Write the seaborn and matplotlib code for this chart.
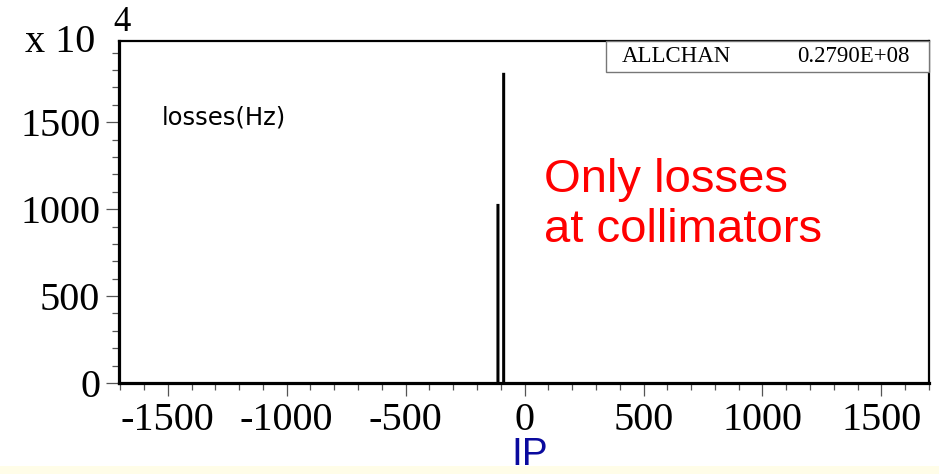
import matplotlib
matplotlib.use("Agg")
import matplotlib.pyplot as plt
import seaborn as sns
import numpy as np
import pandas as pd
from matplotlib.patches import Rectangle
from matplotlib.ticker import MultipleLocator

# ---- data (losses in units of 1e4 Hz) ----
positions = [-112, -88]
losses = [1030, 1784]
x_major = [-1500, -1000, -500, 0, 500, 1000, 1500]
y_major = [0, 500, 1000, 1500]
stat_name = "ALLCHAN"
stat_value = "0.2790E+08"

sns.set_style("ticks")
plt.rcParams['font.family'] = ['Liberation Serif', 'DejaVu Serif']
plt.rcParams['axes.unicode_minus'] = False

W, H = 939, 474
fig = plt.figure(figsize=(W / 100, H / 100), dpi=100)
fig.patch.set_facecolor("white")
# light yellow strip at the bottom
fig.patches.append(Rectangle((0, 0), 1, 8 / H, transform=fig.transFigure,
                             facecolor="#fffde8", edgecolor="none", zorder=0))

ax = fig.add_axes([119 / W, 91 / H, 810 / W, 342 / H])
df = pd.DataFrame({"pos": positions, "loss": losses})
sns.barplot(data=df, x="pos", y="loss", native_scale=True, width=0.53,
            color="black", edgecolor="black", linewidth=0, errorbar=None,
            saturation=1, ax=ax)
for p in ax.patches:
    p.set_snap(False)

ax.set_xlim(-1705, 1700)
ax.set_ylim(0, 1967)
ax.set_xticks(x_major)
ax.set_yticks(y_major)
ax.xaxis.set_minor_locator(MultipleLocator(100))
ax.yaxis.set_minor_locator(MultipleLocator(100))
ax.set_xlabel("")
ax.set_ylabel("")
ax.tick_params(which="major", direction="out", length=9.5, width=0.9,
               color="#555555", labelsize=29, pad=4, labelcolor="black")
ax.tick_params(which="minor", direction="out", length=5, width=0.9,
               color="#555555")
for lab in ax.get_xticklabels() + ax.get_yticklabels():
    lab.set_family(['Liberation Serif', 'DejaVu Serif'])

for side in ["left", "bottom"]:
    ax.spines[side].set_linewidth(2.3)
    ax.spines[side].set_color("black")
for side in ["top", "right"]:
    ax.spines[side].set_linewidth(1.6)
    ax.spines[side].set_color("black")
    ax.spines[side].set_visible(True)

# stats box
bx0 = (606 - 119) / 810
by0 = (383 - 72) / 342
ax.add_patch(Rectangle((bx0, by0), 1 - bx0, 1 - by0, transform=ax.transAxes,
                       facecolor="white", edgecolor="#777777", linewidth=1.0,
                       zorder=3, clip_on=False))
ax.text((622 - 119) / 810, (383 - 57) / 342, stat_name, transform=ax.transAxes,
        fontsize=16.5, va="center", ha="left", zorder=4, color="black")
ax.text((910 - 119) / 810, (383 - 57) / 342, stat_value, transform=ax.transAxes,
        fontsize=16.5, va="center", ha="right", zorder=4, color="black")

# in-plot label
ax.text((162 - 119) / 810, (383 - 117) / 342, "losses(Hz)", transform=ax.transAxes,
        fontsize=17.5, va="center", ha="left", family=["DejaVu Sans"], color="black")

# exponent label
fig.text(25 / W, 1 - 52 / H, "x 10", fontsize=29, ha="left", va="baseline", color="black")
fig.text(113 / W, 1 - 31 / H, "4", fontsize=25, ha="left", va="baseline", color="black")

# annotations
fig.text(544 / W, 1 - 192 / H, "Only losses", fontsize=34, color="#ff0000",
         ha="left", va="baseline", family=["Liberation Sans"])
fig.text(544 / W, 1 - 242 / H, "at collimators", fontsize=34, color="#ff0000",
         ha="left", va="baseline", family=["Liberation Sans"])
fig.text(511 / W, 1 / H, "IP", fontsize=28, color="#0a0a9e",
         ha="left", va="bottom", family=["Liberation Sans"])

fig.savefig("out.png", dpi=100, facecolor=fig.get_facecolor())
